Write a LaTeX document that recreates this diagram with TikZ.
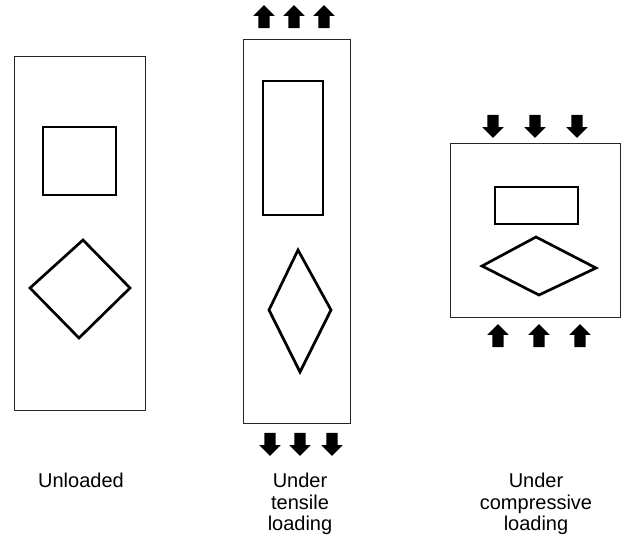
\documentclass[tikz,border=0pt]{standalone}
\usepackage{fontspec}
\setmainfont{Liberation Sans}
\usetikzlibrary{shapes,positioning}
\tikzset{
    specimen/.style={rectangle, draw=black!85, line width=0.9pt, inner sep=0pt},
    marker/.style={draw=black, line width=2.7pt, line join=miter},
    loadup/.style={single arrow, fill=black, draw=none, inner sep=5.5pt, minimum height=23pt, minimum width=21pt, single arrow head extend=5pt, rotate=90},
    loaddown/.style={single arrow, fill=black, draw=none, inner sep=5.5pt, minimum height=23pt, minimum width=21pt, single arrow head extend=5pt, rotate=-90},
    caption/.style={align=center, anchor=north, inner sep=0pt, font=\fontsize{20}{21.5}\selectfont},
}

\begin{document}
\begin{tikzpicture}[x=1pt, y=-1pt]
    \useasboundingbox (0,0) rectangle (624,538);

    % Unloaded
    \node[specimen, minimum width=131pt, minimum height=354pt] (unloaded) at (79.5,233) {};
    \draw[marker] (43,127) rectangle (116,195);
    \draw[marker] (30,288) -- (83,240) -- (130,288) -- (79,338) -- cycle;
    \node[caption] (lblA) at (81,473) {Unloaded};

    % Tensile
    \node[specimen, minimum width=107pt, minimum height=384pt] (tensile) at (296.5,231) {};
    \draw[marker] (263,81) rectangle (323,215);
    \draw[marker] (298,250) -- (331,310) -- (300,372) -- (269,310) -- cycle;
    \foreach \x/\n in {264/1, 294/2, 324/3} {
        \node[loadup] (tt\n) at (\x,19.5) {};
    }
    \foreach \x/\n in {270/1, 300/2, 332/3} {
        \node[loaddown] (tb\n) at (\x,441.5) {};
    }
    \node[caption] (lblB) at (300,473) {Under\\tensile\\loading};

    % Compressive
    \node[specimen, minimum width=170pt, minimum height=174pt] (compressive) at (535,230) {};
    \draw[marker] (495,187) rectangle (578,224);
    \draw[marker] (482,266) -- (536,237) -- (596,268) -- (539,295) -- cycle;
    \foreach \x/\n in {493/1, 535/2, 577/3} {
        \node[loaddown] (ct\n) at (\x,123.5) {};
    }
    \foreach \x/\n in {498/1, 539/2, 580/3} {
        \node[loadup] (cb\n) at (\x,338.5) {};
    }
    \node[caption] (lblC) at (536,473) {Under\\compressive\\loading};
\end{tikzpicture}
\end{document}
